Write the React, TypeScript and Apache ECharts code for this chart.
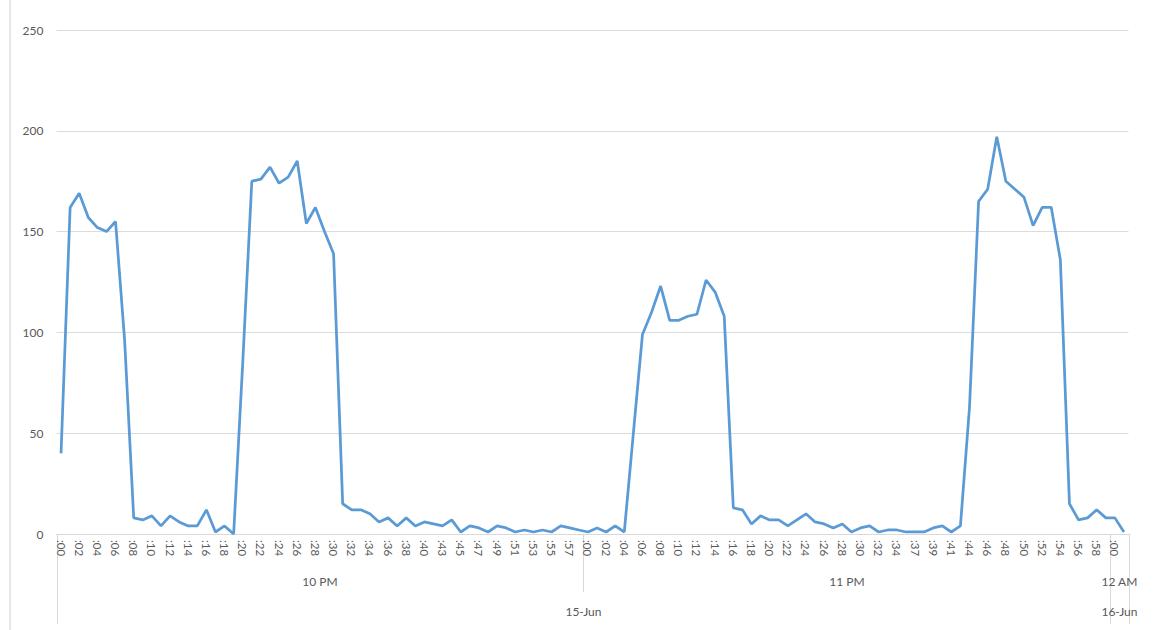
import React, { useEffect, useRef } from "react";
import * as echarts from "echarts";

// Minute categories (multi-level axis: minute / hour / date)
const minutes10PM = [
  ":00", ":01", ":02", ":03", ":04", ":05", ":06", ":07", ":08", ":09",
  ":10", ":11", ":12", ":13", ":14", ":15", ":16", ":17", ":18", ":19",
  ":20", ":21", ":22", ":23", ":24", ":25", ":26", ":27", ":28", ":29",
  ":30", ":31", ":32", ":33", ":34", ":35", ":36", ":37", ":38", ":39",
  ":40", ":42", ":43", ":44", ":45", ":46", ":47", ":48", ":49", ":50",
  ":51", ":52", ":53", ":54", ":55", ":56", ":57", ":58",
];
const minutes11PM = [
  ":00", ":01", ":02", ":03", ":04", ":05", ":06", ":07", ":08", ":09",
  ":10", ":11", ":12", ":13", ":14", ":15", ":16", ":17", ":18", ":19",
  ":20", ":21", ":22", ":23", ":24", ":25", ":26", ":27", ":28", ":29",
  ":30", ":31", ":32", ":33", ":34", ":35", ":37", ":38", ":39", ":40",
  ":41", ":43", ":44", ":45", ":46", ":47", ":48", ":49", ":50", ":51",
  ":52", ":53", ":54", ":55", ":56", ":57", ":58", ":59",
];
const minutes12AM = [":00", ":01"];

const hourLabels = ["10 PM", "11 PM", "12 AM"];
const dateLabels = ["15-Jun", "16-Jun"];
const dateHourCounts = [2, 1]; // hours per date

const values = [
  40, 162, 169, 157, 152, 150, 155, 96, 8, 7,
  9, 4, 9, 6, 4, 4, 12, 1, 4, 0,
  85, 175, 176, 182, 174, 177, 185, 154, 162, 150,
  139, 15, 12, 12, 10, 6, 8, 4, 8, 4,
  6, 5, 4, 7, 1, 4, 3, 1, 4, 3,
  1, 2, 1, 2, 1, 4, 3, 2, 1, 3,
  1, 4, 1, 50, 99, 110, 123, 106, 106, 108,
  109, 126, 120, 108, 13, 12, 5, 9, 7, 7,
  4, 7, 10, 6, 5, 3, 5, 1, 3, 4,
  1, 2, 2, 1, 1, 1, 3, 4, 1, 4,
  63, 165, 171, 197, 175, 171, 167, 153, 162, 162,
  136, 15, 7, 8, 12, 8, 8, 1,
];

const yMin = 0;
const yMax = 250;
const yStep = 50;

export default function App() {
  const ref = useRef<HTMLDivElement>(null);

  useEffect(() => {
    if (!ref.current) return;
    const chart = echarts.init(ref.current, null, { renderer: "svg" });

    const hourGroups = [minutes10PM, minutes11PM, minutes12AM];
    const categories: string[] = [];
    hourGroups.forEach((g, h) => g.forEach((m) => categories.push(hourLabels[h] + " " + m)));

    const textColor = "#595959";
    const font = "Lato, 'Open Sans', sans-serif";

    chart.setOption({
      animation: false,
      grid: { left: 56.5, right: 34.5, top: 30, bottom: 96, containLabel: false },
      xAxis: {
        type: "category",
        data: categories,
        boundaryGap: true,
        axisLine: { show: true, lineStyle: { color: "#d9d9d9", width: 1 } },
        axisTick: { show: false },
        splitLine: { show: false },
        axisLabel: {
          interval: 1,
          rotate: -90,
          margin: 6,
          fontSize: 11.5,
          color: textColor,
          fontFamily: font,
          formatter: (v: string) => v.split(" ").pop(),
        },
      },
      yAxis: {
        type: "value",
        min: yMin,
        max: yMax,
        interval: yStep,
        axisLine: { show: false },
        axisTick: { show: false },
        axisLabel: { margin: 13, fontSize: 12, color: textColor, fontFamily: font },
        splitLine: { lineStyle: { color: "#dcdcdc", width: 1 } },
      },
      series: [
        {
          type: "line",
          data: values,
          symbol: "none",
          showSymbol: false,
          lineStyle: { color: "#5b9bd5", width: 2.75 },
          itemStyle: { color: "#5b9bd5" },
        },
      ],
    });

    // Multi-level axis decorations, positioned through the axis scale
    const px = (i: number) => chart.convertToPixel({ xAxisIndex: 0 }, i) as number;
    const bw = px(1) - px(0);
    const boundary = (k: number) =>
      k < categories.length ? px(k) - bw / 2 : px(categories.length - 1) + bw / 2;
    const y0 = chart.convertToPixel({ yAxisIndex: 0 }, 0) as number;

    const hourStarts: number[] = [0];
    hourGroups.forEach((g, h) => hourStarts.push(hourStarts[h] + g.length));
    const dateStarts: number[] = [0];
    dateHourCounts.forEach((c, d) => dateStarts.push(dateStarts[d] + c));
    const dateBounds = dateStarts.map((h) => hourStarts[h]);

    const graphics: any[] = [
      {
        type: "line",
        shape: { x1: 10, y1: 0, x2: 10, y2: 630 },
        style: { stroke: "#e6e6e6", lineWidth: 2 },
        silent: true,
      },
    ];
    hourStarts.forEach((k) => {
      const isDate = dateBounds.indexOf(k) >= 0;
      const x = Math.round(boundary(k)) + 0.5;
      graphics.push({
        type: "line",
        shape: { x1: x, y1: y0, x2: x, y2: y0 + (isDate ? 90 : 58) },
        style: { stroke: "#d9d9d9", lineWidth: 1 },
        silent: true,
      });
    });
    hourLabels.forEach((lab, h) => {
      const cx = (boundary(hourStarts[h]) + boundary(hourStarts[h + 1])) / 2;
      graphics.push({
        type: "text",
        x: cx,
        y: y0 + 47,
        style: {
          text: lab,
          fill: textColor,
          font: "12px " + font,
          textAlign: "center",
          textVerticalAlign: "middle",
        },
        silent: true,
      });
    });
    dateLabels.forEach((lab, d) => {
      const cx = (boundary(dateBounds[d]) + boundary(dateBounds[d + 1])) / 2;
      graphics.push({
        type: "text",
        x: cx,
        y: y0 + 77,
        style: {
          text: lab,
          fill: textColor,
          font: "12px " + font,
          textAlign: "center",
          textVerticalAlign: "middle",
        },
        silent: true,
      });
    });

    chart.setOption({ graphic: graphics });

    return () => chart.dispose();
  }, []);

  return (
    <div
      ref={ref}
      style={{ position: "absolute", left: 0, top: 0, width: 1163, height: 630, background: "#ffffff" }}
    />
  );
}
